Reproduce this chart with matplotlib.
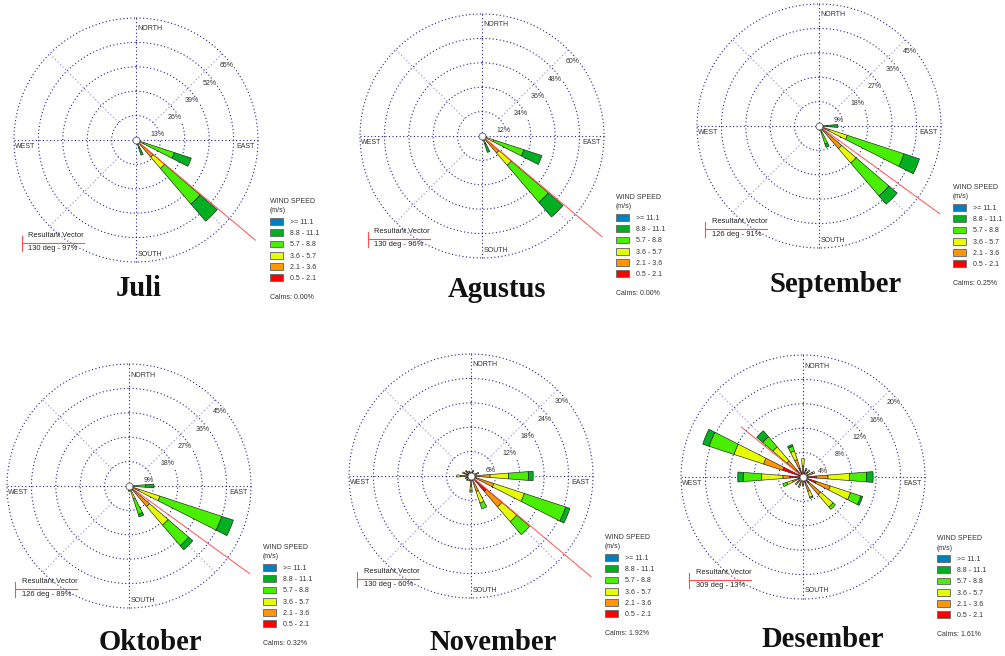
import matplotlib
matplotlib.use("Agg")
import matplotlib.pyplot as plt
import numpy as np
from matplotlib.patches import Patch

# ─────────────────────────────────────────────────────────────────────────────
# Data
# ─────────────────────────────────────────────────────────────────────────────

months = ["Juli", "Agustus", "September", "Oktober", "November", "Desember"]
ring_step = [13, 12, 9, 9, 6, 4]                 # % per ring (5 rings)
resultant_deg = [130, 130, 126, 126, 130, 309]
resultant_pct = [97, 96, 91, 89, 60, 13]
resultant_len = [83, 77, 55, 55, 38.5, 13]        # drawn length of red line, %
calms = ["0.00%", "0.00%", "0.25%", "0.32%", "1.92%", "1.61%"]

# speed classes, slow -> fast
class_labels = ["0.5 - 2.1", "2.1 - 3.6", "3.6 - 5.7", "5.7 - 8.8", "8.8 - 11.1", ">= 11.1"]
class_colors = ["#FF0000", "#FF9600", "#E6FF00", "#48F000", "#00B020", "#0080C0"]

# petal bearings (deg) and frequency (%) per speed class (slow -> fast)
juli_dir = [112.5, 135, 157.5]
juli_freq = [[0.5, 1.0, 3.0, 17.0, 9.5, 0],
             [2.0, 10.0, 8.0, 25.0, 12.0, 0],
             [0.3, 0.5, 0.7, 3.0, 4.0, 0]]

agustus_dir = [112.5, 135, 157.5]
agustus_freq = [[0.5, 1.0, 4.5, 15.7, 9.3, 0],
                [2.0, 9.0, 8.0, 24.0, 9.5, 0],
                [0.3, 0.5, 0.7, 2.5, 4.5, 0]]

september_dir = [90, 112.5, 135, 157.5]
september_freq = [[0.2, 0.3, 0.5, 2.0, 4.0, 0],
                  [1.0, 3.0, 7.0, 22.0, 6.0, 0],
                  [2.0, 9.0, 7.0, 16.0, 4.0, 0],
                  [0.3, 0.7, 1.5, 4.5, 1.3, 0]]

oktober_dir = [90, 112.5, 135, 157.5, 180]
oktober_freq = [[0.3, 0.7, 1.0, 4.0, 3.2, 0],
                [1.0, 3.0, 8.0, 24.0, 4.5, 0],
                [2.0, 8.0, 9.0, 10.0, 2.0, 0],
                [0.5, 1.0, 3.5, 6.0, 1.0, 0],
                [0.3, 0.5, 0.7, 0.5, 0, 0]]

november_dir = [0, 22.5, 45, 67.5, 90, 112.5, 135, 157.5, 180,
                202.5, 225, 247.5, 270, 292.5, 315, 337.5]
november_freq = [[0.5, 0.5, 0, 0, 0, 0],
                 [0.5, 0.7, 0.3, 0, 0, 0],
                 [0.5, 0.5, 0, 0, 0, 0],
                 [0.5, 1.0, 0.5, 0, 0, 0],
                 [1.0, 3.7, 4.5, 4.9, 1.2, 0],
                 [1.5, 4.4, 7.9, 10.7, 1.1, 0],
                 [5.0, 5.0, 4.8, 4.2, 0, 0],
                 [1.0, 3.0, 3.0, 1.5, 0, 0],
                 [1.0, 1.5, 1.0, 0.5, 0, 0],
                 [0.5, 0.5, 0.3, 0, 0, 0],
                 [0.5, 0.8, 0.2, 0, 0, 0],
                 [0.5, 0.5, 0.5, 0, 0, 0],
                 [1.0, 1.5, 1.0, 0, 0, 0],
                 [0.7, 1.0, 0.5, 0, 0, 0],
                 [0.7, 0.8, 0.3, 0, 0, 0],
                 [0.5, 0.5, 0.3, 0, 0, 0]]

desember_dir = [0, 22.5, 45, 67.5, 90, 112.5, 135, 157.5, 180,
                202.5, 225, 247.5, 270, 292.5, 315, 337.5]
desember_freq = [[0.8, 1.0, 1.2, 0, 0, 0],
                 [0.5, 0.7, 0.3, 0, 0, 0],
                 [0.5, 0.5, 0.5, 0, 0, 0],
                 [0.7, 1.0, 0.3, 0, 0, 0],
                 [2.2, 1.9, 3.5, 2.8, 1.1, 0],
                 [2.3, 2.4, 3.5, 1.8, 0.3, 0],
                 [1.2, 2.6, 2.7, 0.5, 0, 0],
                 [1.0, 1.5, 1.0, 0.2, 0, 0],
                 [0.5, 0.7, 0.3, 0, 0, 0],
                 [0.6, 0.8, 0.4, 0, 0, 0],
                 [0.5, 0.7, 0.5, 0, 0, 0],
                 [0.8, 1.0, 1.0, 0.7, 0, 0],
                 [2.2, 1.1, 3.5, 3.0, 0.9, 0],
                 [3.5, 3.3, 5.1, 4.3, 1.1, 0],
                 [1.5, 2.0, 3.0, 2.2, 1.3, 0],
                 [1.5, 1.5, 1.5, 0.8, 0.3, 0]]

all_dirs = [juli_dir, agustus_dir, september_dir, oktober_dir, november_dir, desember_dir]
all_freq = [juli_freq, agustus_freq, september_freq, oktober_freq, november_freq, desember_freq]

# ─────────────────────────────────────────────────────────────────────────────
# Layout (pixels of the 1005x656 canvas)
# ─────────────────────────────────────────────────────────────────────────────

W, H = 1005, 656
R = 122                                   # outer ring radius, px
centers = [(136, 140), (482, 136), (819, 126), (129, 486), (471, 476), (803, 477)]
title_pos = [(139, 296), (497, 297), (836, 292), (150, 650), (493, 650), (823, 647)]

PETAL_W = np.deg2rad(8.8)
RING_C = "#23238f"
DIAG_C = "#8a8ad0"
TXT_C = "#333333"
SMALL = 5.0
SANS = "Liberation Sans"

fig = plt.figure(figsize=(W / 100, H / 100), dpi=100)
fig.patch.set_facecolor("white")


def px_axes(cx, cy):
    return [(cx - R) / W, 1 - (cy + R) / H, 2 * R / W, 2 * R / H]


for i, month in enumerate(months):
    cx, cy = centers[i]
    step = ring_step[i]
    rmax = 5 * step
    ax = fig.add_axes(px_axes(cx, cy), projection="polar")
    ax.set_theta_zero_location("N")
    ax.set_theta_direction(-1)
    ax.set_ylim(0, rmax)
    ax.set_xticks([])
    ax.set_yticks([])
    ax.grid(False)
    ax.spines["polar"].set_visible(False)
    ax.patch.set_alpha(0)

    # ── dotted rings and spokes ─────────────────────────────────────────────
    th = np.linspace(0, 2 * np.pi, 400)
    for j in range(1, 6):
        ax.plot(th, np.full_like(th, j * step), color=RING_C, lw=0.8,
                ls=(0, (1, 2.2)), clip_on=False, zorder=1)
    for a in range(0, 360, 45):
        diag = a % 90 != 0
        ax.plot([np.deg2rad(a)] * 2, [step if diag else 0, rmax],
                color=DIAG_C if diag else RING_C, lw=0.8,
                ls=(0, (1, 2.2)), clip_on=False, zorder=1)

    # ── ring labels ─────────────────────────────────────────────────────────
    for j in range(1, 6):
        ax.annotate(f"{j * step}%", xy=(np.deg2rad(45), j * step),
                    xytext=(-2, -6.3), textcoords="offset points",
                    ha="left", va="top", fontsize=SMALL, color=TXT_C,
                    family=SANS, zorder=2,
                    bbox=dict(facecolor="white", edgecolor="none", pad=0.2))

    # ── compass labels ──────────────────────────────────────────────────────
    lab_kw = dict(transform=ax.transAxes, fontsize=SMALL, color=TXT_C,
                  family=SANS, va="center", zorder=2,
                  bbox=dict(facecolor="white", edgecolor="none", pad=0.3))
    ax.text(0.5 + 1 / (2 * R), 1 - 11 / (2 * R), "NORTH", ha="left", **lab_kw)
    ax.text(0.5 + 2 / (2 * R), 8 / (2 * R), "SOUTH", ha="left", **lab_kw)
    ax.text(1 - 3 / (2 * R), 0.5 - 6.5 / (2 * R), "EAST", ha="right", **lab_kw)
    ax.text(1 / (2 * R), 0.5 - 6.5 / (2 * R), "WEST", ha="left", **lab_kw)

    # ── petals ──────────────────────────────────────────────────────────────
    theta = np.deg2rad(np.array(all_dirs[i]))
    freq = np.array(all_freq[i], dtype=float)
    bottom = np.zeros(len(theta))
    for k in range(6):
        h = freq[:, k]
        m = h > 0
        if m.any():
            ax.bar(theta[m], h[m], width=PETAL_W, bottom=bottom[m],
                   color=class_colors[k], edgecolor="#202020",
                   linewidth=0.45, zorder=3)
        bottom += h

    # ── resultant vector ────────────────────────────────────────────────────
    rv = np.deg2rad(resultant_deg[i])
    ax.plot([rv, rv], [0, resultant_len[i]], color="#FF5050", lw=0.7,
            clip_on=False, zorder=4)

    # calm circle
    ax.plot([0], [0], "o", ms=5, mfc="white", mec="#606060", mew=0.6,
            zorder=5, clip_on=False)

    # resultant vector key (lower left)
    bx = 0.5 - 114 / (2 * R)
    by = 0.5 - 103 / (2 * R)
    ax.plot([bx, bx + 62 / (2 * R)], [by, by], transform=ax.transAxes,
            color="#FF5050", lw=0.8, clip_on=False)
    ax.plot([bx, bx], [by - 7.5 / (2 * R), by + 7.5 / (2 * R)],
            transform=ax.transAxes, color="#FF5050", lw=0.8, clip_on=False)
    ax.text(bx + 6.5 / (2 * R), by + 7.5 / (2 * R), "Resultant Vector",
            transform=ax.transAxes, fontsize=5.4, color="#222222",
            family=SANS, va="center", ha="left")
    ax.text(bx + 6.5 / (2 * R), by - 5.5 / (2 * R),
            f"{resultant_deg[i]} deg - {resultant_pct[i]}%",
            transform=ax.transAxes, fontsize=5.4, color="#222222",
            family=SANS, va="center", ha="left")

    # ── legend ──────────────────────────────────────────────────────────────
    handles = [Patch(facecolor=c, edgecolor="#707070", linewidth=0.7)
               for c in class_colors[::-1]]
    leg = fig.legend(handles, class_labels[::-1], loc="upper left",
                     bbox_to_anchor=((cx + 134) / W, 1 - (cy + 58) / H),
                     frameon=False, fontsize=SMALL, title="WIND SPEED\n(m/s)",
                     title_fontsize=SMALL, alignment="left",
                     handlelength=1.9, handleheight=1.15, handletextpad=1.0,
                     labelspacing=0.5, borderpad=0, borderaxespad=0,
                     prop={"family": SANS, "size": SMALL})
    leg.get_title().set_linespacing(1.5)
    leg.get_title().set_family(SANS)
    leg.get_title().set_color(TXT_C)
    for t in leg.get_texts():
        t.set_color(TXT_C)
    fig.text((cx + 134) / W, 1 - (cy + 157.5) / H, f"Calms: {calms[i]}",
             fontsize=SMALL, color=TXT_C, family=SANS, va="center", ha="left")

    # ── month title ─────────────────────────────────────────────────────────
    tx, ty = title_pos[i]
    fig.text(tx / W, 1 - ty / H, month, ha="center", va="baseline",
             fontsize=20.6, fontweight="bold", family="Liberation Serif",
             color="#111111")

fig.savefig("out.png", dpi=100, facecolor="white")
